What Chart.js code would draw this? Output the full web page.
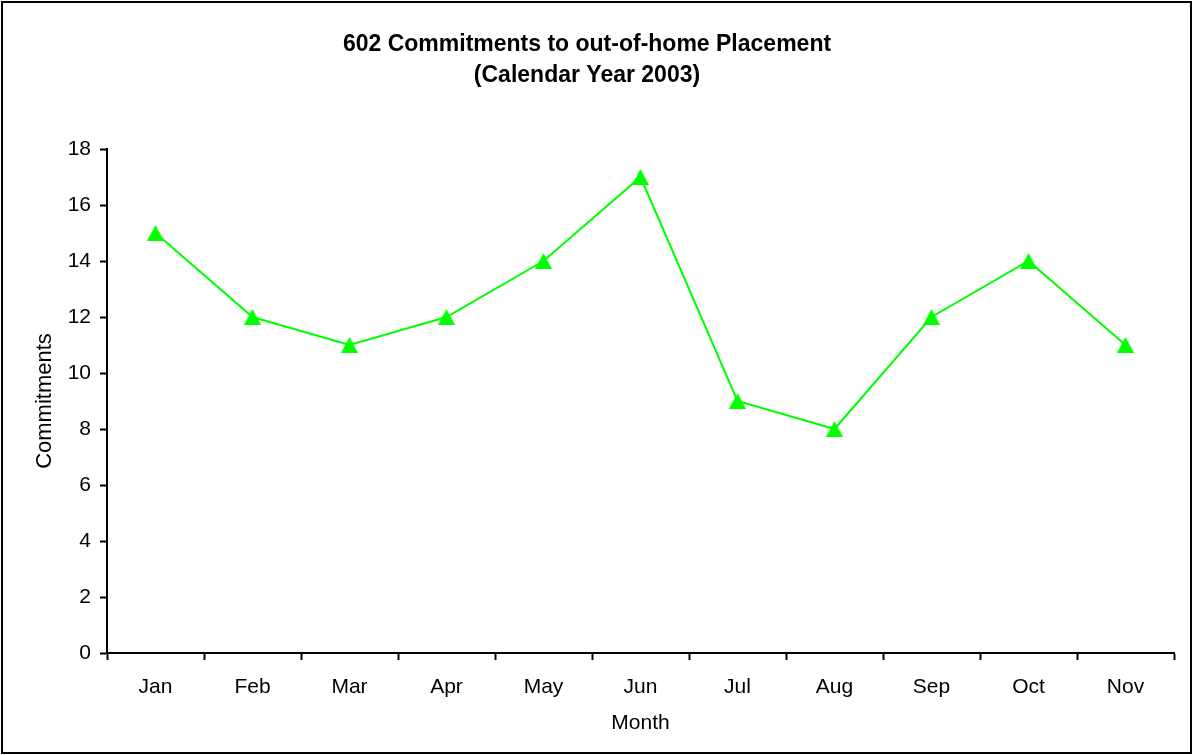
<!DOCTYPE html>
<html>
<head>
<meta charset="utf-8">
<script src="https://cdn.jsdelivr.net/npm/chart.js@4/dist/chart.umd.min.js"></script>
<style>
  html, body { margin: 0; padding: 0; background: #ffffff; }
  #wrap { width: 1193px; height: 755px; }
</style>
</head>
<body>
<div id="wrap"><canvas id="c" width="1193" height="755"></canvas></div>
<script>
const months = ["Jan", "Feb", "Mar", "Apr", "May", "Jun", "Jul", "Aug", "Sep", "Oct", "Nov"];
const commitments = [15, 12, 11, 12, 14, 17, 9, 8, 12, 14, 11];
const titleLines = ["602 Commitments to out-of-home Placement", "(Calendar Year 2003)"];
const yAxisTitle = "Commitments";
const xAxisTitle = "Month";
const yMin = 0, yMax = 18, yStep = 2;

const FONT = "'Liberation Sans', Arial, sans-serif";

// triangle marker, centred on its bounding box like the original
function makeTriangle() {
  const c = document.createElement('canvas');
  c.width = 20; c.height = 20;
  const g = c.getContext('2d');
  g.fillStyle = '#00ff00';
  g.beginPath();
  g.moveTo(10, 2.1);
  g.lineTo(18.6, 17.9);
  g.lineTo(1.4, 17.9);
  g.closePath();
  g.fill();
  return c;
}
const tri = makeTriangle();

const frame = {
  id: 'frame',
  beforeDraw(chart) {
    const ctx = chart.ctx;
    ctx.save();
    ctx.fillStyle = '#ffffff';
    ctx.fillRect(0, 0, chart.width, chart.height);
    ctx.restore();
  },
  afterDraw(chart) {
    const ctx = chart.ctx;
    ctx.save();
    ctx.strokeStyle = '#000000';
    ctx.lineWidth = 2;
    ctx.strokeRect(2, 2, chart.width - 4, chart.height - 4);
    ctx.restore();
  }
};

new Chart(document.getElementById('c'), {
  type: 'line',
  data: {
    labels: months,
    datasets: [{
      label: yAxisTitle,
      data: commitments,
      borderColor: '#00ff00',
      backgroundColor: '#00ff00',
      borderWidth: 2,
      pointStyle: tri,
      pointRadius: 9,
      pointHoverRadius: 9,
      tension: 0,
      fill: false
    }]
  },
  plugins: [frame],
  options: {
    responsive: false,
    animation: false,
    devicePixelRatio: 1,
    layout: { padding: { left: 0, right: 19, top: 0, bottom: 0 } },
    plugins: {
      legend: { display: false },
      tooltip: { enabled: false },
      title: {
        display: true,
        text: titleLines,
        color: '#000000',
        font: { family: FONT, size: 23, weight: 'bold', lineHeight: 1.35 },
        padding: { top: 29, bottom: 57.9 }
      }
    },
    scales: {
      x: {
        type: 'category',
        offset: true,
        afterFit(scale) { scale.height = 102; },
        grid: {
          offset: true,
          drawOnChartArea: false,
          drawTicks: true,
          tickLength: 7,
          tickWidth: 2,
          tickColor: '#000000'
        },
        border: { display: true, color: '#000000', width: 2 },
        ticks: {
          color: '#000000',
          font: { family: FONT, size: 21 },
          padding: 15,
          maxRotation: 0,
          autoSkip: false
        },
        title: {
          display: true,
          text: xAxisTitle,
          color: '#000000',
          font: { family: FONT, size: 21 },
          padding: { top: 10, bottom: 19 }
        }
      },
      y: {
        min: yMin,
        max: yMax,
        afterFit(scale) { scale.width = 107; },
        grid: {
          drawOnChartArea: false,
          drawTicks: true,
          tickLength: 7,
          tickWidth: 2,
          tickColor: '#000000'
        },
        border: { display: true, color: '#000000', width: 2 },
        ticks: {
          stepSize: yStep,
          color: '#000000',
          font: { family: FONT, size: 21 },
          padding: 9
        },
        title: {
          display: true,
          text: yAxisTitle,
          color: '#000000',
          font: { family: FONT, size: 22 },
          padding: { top: 32, bottom: 10 }
        }
      }
    }
  }
});
</script>
</body>
</html>
